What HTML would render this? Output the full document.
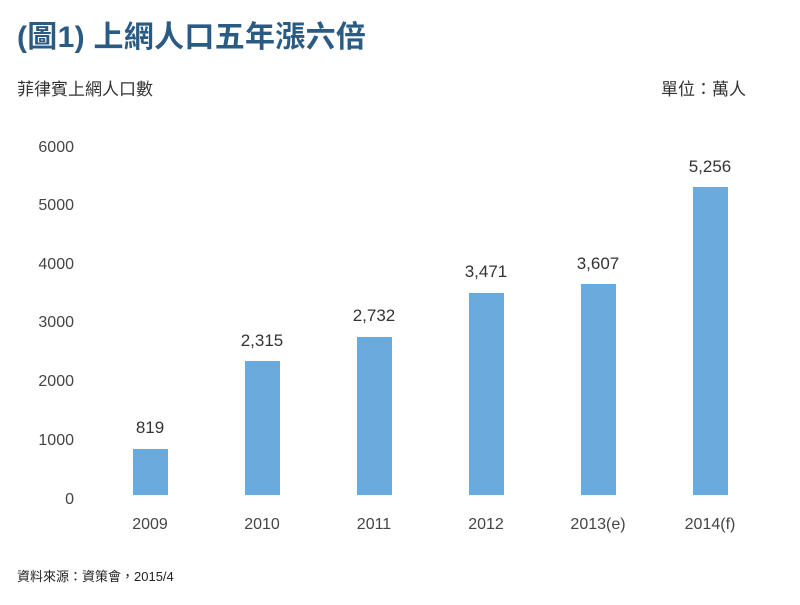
<!DOCTYPE html>
<html><head><meta charset="utf-8"><style>
body{margin:0;background:#fff;width:800px;height:600px;overflow:hidden}
svg text{font-family:"Liberation Sans","Noto Sans CJK TC",sans-serif}
</style></head><body>
<svg width="800" height="600" xmlns="http://www.w3.org/2000/svg">
<text x="17" y="47" font-size="30" font-weight="bold" fill="#2a5b84" letter-spacing="0.3">(圖1) 上網人口五年漲六倍</text>
<text x="17" y="95" font-size="17" fill="#333">菲律賓上網人口數</text>
<text x="746" y="95" font-size="17" fill="#333" text-anchor="end">單位：萬人</text>
<g font-size="16" fill="#444" text-anchor="end">
<text x="74" y="504">0</text>
<text x="74" y="445">1000</text>
<text x="74" y="386">2000</text>
<text x="74" y="327">3000</text>
<text x="74" y="269">4000</text>
<text x="74" y="210">5000</text>
<text x="74" y="152">6000</text>
</g>
<g fill="#6aaadc">
<rect x="133" y="449" width="35" height="46"/>
<rect x="245" y="361" width="35" height="134"/>
<rect x="357" y="337" width="35" height="158"/>
<rect x="469" y="293" width="35" height="202"/>
<rect x="581" y="284" width="35" height="211"/>
<rect x="693" y="187" width="35" height="308"/>
</g>
<g font-size="17" fill="#333" text-anchor="middle">
<text x="150" y="433">819</text>
<text x="262" y="346">2,315</text>
<text x="374" y="321">2,732</text>
<text x="486" y="277">3,471</text>
<text x="598" y="269">3,607</text>
<text x="710" y="172">5,256</text>
</g>
<g font-size="16" fill="#444" text-anchor="middle">
<text x="150" y="529">2009</text>
<text x="262" y="529">2010</text>
<text x="374" y="529">2011</text>
<text x="486" y="529">2012</text>
<text x="598" y="529">2013(e)</text>
<text x="710" y="529">2014(f)</text>
</g>
<text x="17" y="581" font-size="13" fill="#222">資料來源：資策會，2015/4</text>
</svg>
</body></html>
